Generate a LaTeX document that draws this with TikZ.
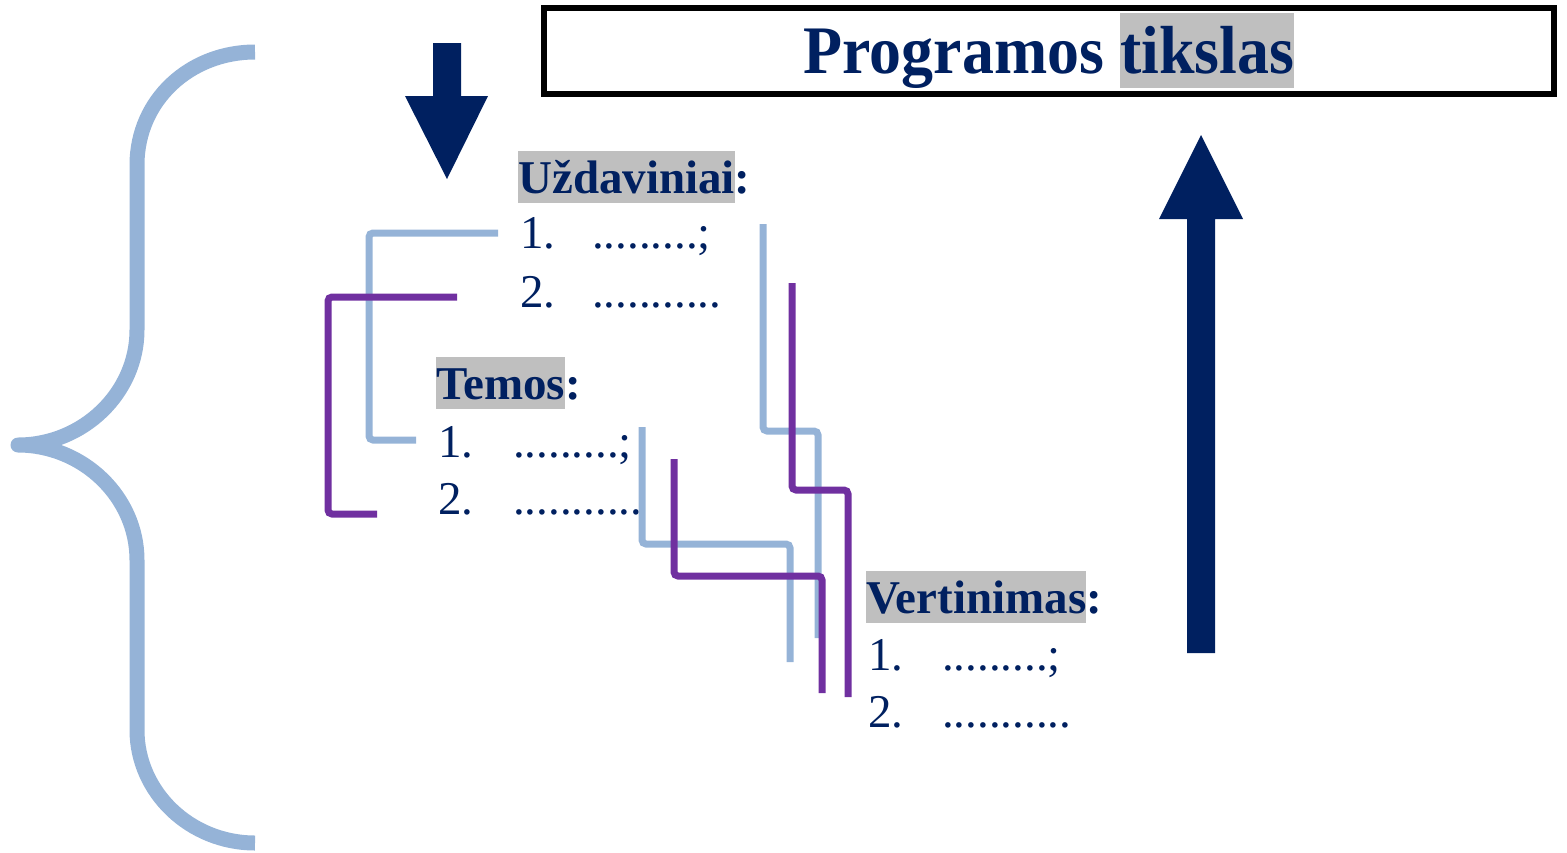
\documentclass[tikz,border=0pt]{standalone}
\usepackage{fontspec}
\setmainfont{Liberation Serif}
\newfontfamily\titlefont[FakeStretch=0.94]{Liberation Serif}
\usepackage{tikz}

\definecolor{navy}{HTML}{002060}
\definecolor{lblue}{HTML}{95B3D7}
\definecolor{purp}{HTML}{7030A0}
\definecolor{hlgray}{HTML}{BFBFBF}
\newcommand{\hlword}[1]{{\setlength{\fboxsep}{0pt}\colorbox{hlgray}{\rule[-0.21em]{0pt}{1.1em}#1}}}

\begin{document}
\begin{tikzpicture}[x=1pt, y=-1pt,
    lbline/.style={line width=7pt, color=lblue, rounded corners=4pt},
    puline/.style={line width=7pt, color=purp, rounded corners=4pt},
    headtxt/.style={anchor=base west, inner sep=0pt, text=navy, font=\fontsize{47}{56}\selectfont\bfseries},
    itemtxt/.style={anchor=base west, inner sep=0pt, text=navy, font=\fontsize{47}{56}\selectfont}]
        \useasboundingbox (0,0) rectangle (1567,852);
        % brace
        \draw[lblue, line width=15pt, line join=round] (255,52) .. controls (190,52) and (137,100) .. (137,165) -- (137,330)
            .. controls (137,393) and (83,445) .. (18,445) .. controls (83,445) and (137,497) .. (137,560) -- (137,730)
            .. controls (137,792) and (190,843) .. (255,843);
        % arrows
        \fill[navy] (433,43) -- (461,43) -- (461,96) -- (488,96) -- (447,179) -- (405,96) -- (433,96) -- cycle;
        \fill[navy] (1187,653) -- (1215,653) -- (1215,219) -- (1243,219) -- (1201,135) -- (1159,219) -- (1187,219) -- cycle;
        % goal
        \node[draw=black, line width=6pt, minimum width=1010pt, minimum height=86pt, inner sep=0pt, text=navy,
            font=\titlefont\fontsize{68}{80}\selectfont\bfseries] (goal) at (1049,51) {Programos \hlword{tikslas}};
        % lists
        \node[headtxt] (uzd) at (518,193) {\hlword{Uždaviniai}:};
        \node[itemtxt] (uzd1) at (520,248) {\makebox[72pt][l]{1.}.........;};
        \node[itemtxt] (uzd2) at (520,307) {\makebox[72pt][l]{2.}...........};
        \node[headtxt] (tem) at (436,399) {\hlword{Temos}:};
        \node[itemtxt] (tem1) at (438,457) {\makebox[75pt][l]{1.}.........;};
        \node[itemtxt] (tem2) at (438,514) {\makebox[75pt][l]{2.}...........};
        \node[headtxt] (ver) at (866,613) {\hlword{Vertinimas}:};
        \node[itemtxt] (ver1) at (868,670) {\makebox[74pt][l]{1.}.........;};
        \node[itemtxt] (ver2) at (868,727) {\makebox[74pt][l]{2.}...........};
        % links
        \coordinate (uzd1w) at (498,233);
        \coordinate (uzd2w) at (457,297);
        \coordinate (uzd1e) at (763,224);
        \coordinate (uzd2e) at (792,283);
        \coordinate (tem1w) at (416,440);
        \coordinate (tem2w) at (377,514);
        \coordinate (tem1e) at (642,427);
        \coordinate (tem2e) at (674,459);
        \coordinate (ver1c) at (790,662);
        \coordinate (ver2c) at (822,693);
        \coordinate (ver1u) at (818,638);
        \coordinate (ver2u) at (848,697);
        \draw[lbline] (uzd1w) -- ++(-129,0) |- (tem1w);
        \draw[lbline] (tem1e) -- ++(0,117) -| (ver1c);
        \draw[lbline] (uzd1e) -- ++(0,207) -| (ver1u);
        \draw[puline] (uzd2w) -- ++(-129,0) |- (tem2w);
        \draw[puline] (tem2e) -- ++(0,117) -| (ver2c);
        \draw[puline] (uzd2e) -- ++(0,207) -| (ver2u);
      \end{tikzpicture}
\end{document}
